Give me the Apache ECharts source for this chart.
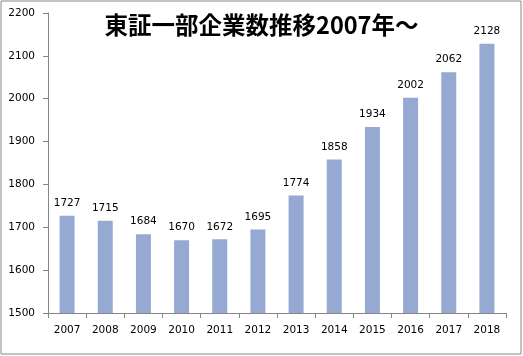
<!DOCTYPE html>
<html><head><meta charset="utf-8">
<script src="https://cdn.jsdelivr.net/npm/echarts@6/dist/echarts.min.js"></script>
<style>html,body{margin:0;padding:0;background:#fff}#c{width:523px;height:356px}</style>
</head><body><div id="c"></div>
<script>
const titleText = '東証一部企業数推移2007年～';
const years = ['2007','2008','2009','2010','2011','2012','2013','2014','2015','2016','2017','2018'];
const counts = [1727,1715,1684,1670,1672,1695,1774,1858,1934,2002,2062,2128];
const yMin = 1500, yMax = 2200, yStep = 100;

const chart = echarts.init(document.getElementById('c'), null, {renderer:'canvas'});
const font = 'DejaVu Sans';
chart.setOption({
  animation:false,
  backgroundColor:'#fff',
  title:{text:titleText,left:'center',top:8,
    textStyle:{fontFamily:'"Noto Sans CJK JP"',fontSize:23.5,fontWeight:'bold',color:'#000'}},
  graphic:[{type:'rect',shape:{x:1,y:1,width:520,height:353},
    style:{fill:null,stroke:'#888',lineWidth:1},silent:true}],
  grid:{left:48,right:17,top:13,bottom:43,containLabel:false},
  xAxis:{type:'category',data:years,
    axisLine:{lineStyle:{color:'#868686'}},
    axisTick:{show:true,length:5,lineStyle:{color:'#868686'}},
    axisLabel:{fontFamily:font,fontSize:10.5,color:'#000',margin:12}},
  yAxis:{type:'value',min:yMin,max:yMax,interval:yStep,
    axisLine:{show:true,lineStyle:{color:'#868686'}},
    axisTick:{show:true,length:5,lineStyle:{color:'#868686'}},
    splitLine:{show:false},
    axisLabel:{fontFamily:font,fontSize:10.5,color:'#000',margin:13,formatter:v=>String(v)}},
  series:[{type:'bar',data:counts,barWidth:15,
    itemStyle:{color:'#95A9D2'},
    label:{show:true,position:'top',distance:7,fontFamily:font,fontSize:10.5,color:'#000'}}]
});
</script></body></html>
